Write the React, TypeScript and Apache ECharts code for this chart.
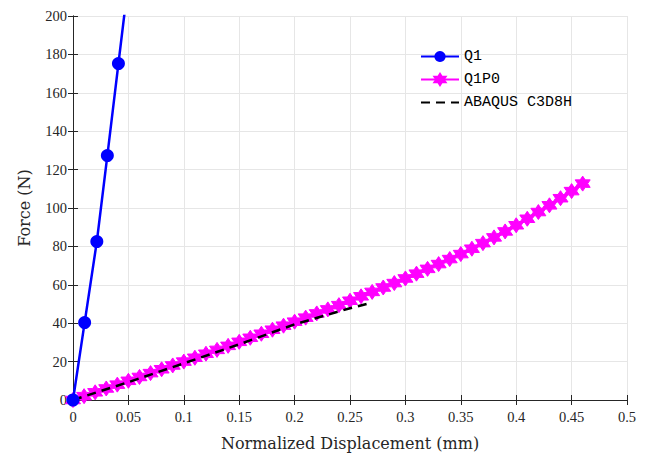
import React, { useEffect, useRef } from "react";
import * as echarts from "echarts";

const q1X = [0, 0.0105, 0.0215, 0.031, 0.041, 0.051];
const q1Y = [0, 40.3, 82.5, 127.3, 175.2, 223];

const q1p0X = [
  0, 0.01, 0.02, 0.03, 0.04, 0.05, 0.06, 0.07, 0.08, 0.09, 0.1, 0.11, 0.12, 0.13, 0.14, 0.15,
  0.16, 0.17, 0.18, 0.19, 0.2, 0.21, 0.22, 0.23, 0.24, 0.25, 0.26, 0.27, 0.28, 0.29, 0.3, 0.31,
  0.32, 0.33, 0.34, 0.35, 0.36, 0.37, 0.38, 0.39, 0.4, 0.41, 0.42, 0.43, 0.44, 0.45, 0.46,
];
const q1p0Y = [
  0, 2.0, 4.0, 6.0, 8.0, 10.0, 12.0, 14.0, 16.0, 18.0, 20.0, 22.0, 24.1, 26.1, 28.2, 30.3,
  32.4, 34.5, 36.6, 38.7, 40.8, 42.9, 45.1, 47.2, 49.4, 51.7, 54.0, 56.3, 58.6, 60.9, 63.3, 65.8,
  68.3, 70.8, 73.4, 76.0, 78.8, 81.7, 84.7, 87.8, 91.0, 94.4, 97.9, 101.4, 105.1, 108.8, 112.7,
];

const abaqusX = [0, 0.05, 0.1, 0.15, 0.2, 0.25, 0.27];
const abaqusY = [0, 9.3, 19.1, 29.0, 39.4, 47.8, 50.8];

const seriesNames = ["Q1", "Q1P0", "ABAQUS C3D8H"];
const xTicks = { min: 0, max: 0.5, interval: 0.05 };
const yTicks = { min: 0, max: 200, interval: 20 };

const hexagram =
  "path://M100 0 L128.87 50 L186.6 50 L157.7 100 L186.6 150 L128.87 150 L100 200 L71.13 150 L13.4 150 L42.3 100 L13.4 50 L71.13 50 Z";

const zip = (xs: number[], ys: number[]) => xs.map((x, i) => [x, ys[i]]);

export default function App() {
  const ref = useRef<HTMLDivElement>(null);
  useEffect(() => {
    if (!ref.current) return;
    const chart = echarts.init(ref.current, null, { renderer: "svg" });
    const axisColor = "#262626";
    const serif = "'Liberation Serif', serif";
    const nameFont = { fontFamily: "'DejaVu Serif', serif", fontSize: 16, color: "#262626" };
    const tickFont = { fontFamily: serif, fontSize: 14.5, color: "#262626" };
    chart.setOption({
      animation: false,
      backgroundColor: "#ffffff",
      textStyle: { fontFamily: serif },
      grid: { left: 73, right: 19, top: 16, bottom: 53, containLabel: false },
      legend: {
        orient: "vertical",
        left: 415,
        top: 44,
        itemWidth: 38,
        itemHeight: 14,
        itemGap: 8,
        textStyle: { fontFamily: "'Liberation Mono', monospace", fontSize: 15, color: "#000" },
        data: [
          { name: seriesNames[0] },
          { name: seriesNames[1] },
          { name: seriesNames[2], itemStyle: { opacity: 0 } },
        ],
      },
      xAxis: [
        {
          type: "value",
          ...xTicks,
          name: "Normalized Displacement (mm)",
          nameLocation: "middle",
          nameGap: 35,
          nameTextStyle: nameFont,
          axisLine: { show: true, lineStyle: { color: axisColor, width: 1 } },
          axisTick: { show: true, inside: true, length: 5, lineStyle: { color: axisColor } },
          axisLabel: { ...tickFont, margin: 9 },
          splitLine: { show: true, lineStyle: { color: "#e6e6e6", width: 1 } },
        },
        {
          type: "value",
          position: "top",
          ...xTicks,
          axisLine: { show: true, lineStyle: { color: axisColor, width: 1 } },
          axisTick: { show: true, inside: true, length: 5, lineStyle: { color: axisColor } },
          axisLabel: { show: false },
          splitLine: { show: false },
        },
      ],
      yAxis: [
        {
          type: "value",
          ...yTicks,
          name: "Force (N)",
          nameLocation: "middle",
          nameGap: 41,
          nameTextStyle: nameFont,
          axisLine: { show: true, lineStyle: { color: axisColor, width: 1 } },
          axisTick: { show: true, inside: true, length: 5, lineStyle: { color: axisColor } },
          axisLabel: { ...tickFont, margin: 6 },
          splitLine: { show: true, lineStyle: { color: "#e6e6e6", width: 1 } },
        },
        {
          type: "value",
          position: "right",
          ...yTicks,
          axisLine: { show: true, lineStyle: { color: axisColor, width: 1 } },
          axisTick: { show: true, inside: true, length: 5, lineStyle: { color: axisColor } },
          axisLabel: { show: false },
          splitLine: { show: false },
        },
      ],
      series: [
        {
          name: seriesNames[2],
          type: "line",
          data: zip(abaqusX, abaqusY),
          showSymbol: false,
          symbol: "none",
          lineStyle: { color: "#000000", width: 2.5, type: [9, 6] },
          itemStyle: { color: "#000000" },
          z: 4,
        },
        {
          name: seriesNames[1],
          type: "line",
          data: zip(q1p0X, q1p0Y),
          symbol: hexagram,
          symbolSize: 15,
          lineStyle: { color: "#ff00ff", width: 2 },
          itemStyle: { color: "#ff00ff", borderColor: "#ff00ff", borderWidth: 1 },
          z: 3,
        },
        {
          name: seriesNames[0],
          type: "line",
          data: zip(q1X, q1Y),
          symbol: "circle",
          symbolSize: 13,
          lineStyle: { color: "#0000ff", width: 2.5 },
          itemStyle: { color: "#0000ff" },
          clip: true,
          z: 5,
        },
      ],
    });
    return () => chart.dispose();
  }, []);
  return <div ref={ref} style={{ width: 646, height: 456, position: "absolute", left: 0, top: 0 }} />;
}
